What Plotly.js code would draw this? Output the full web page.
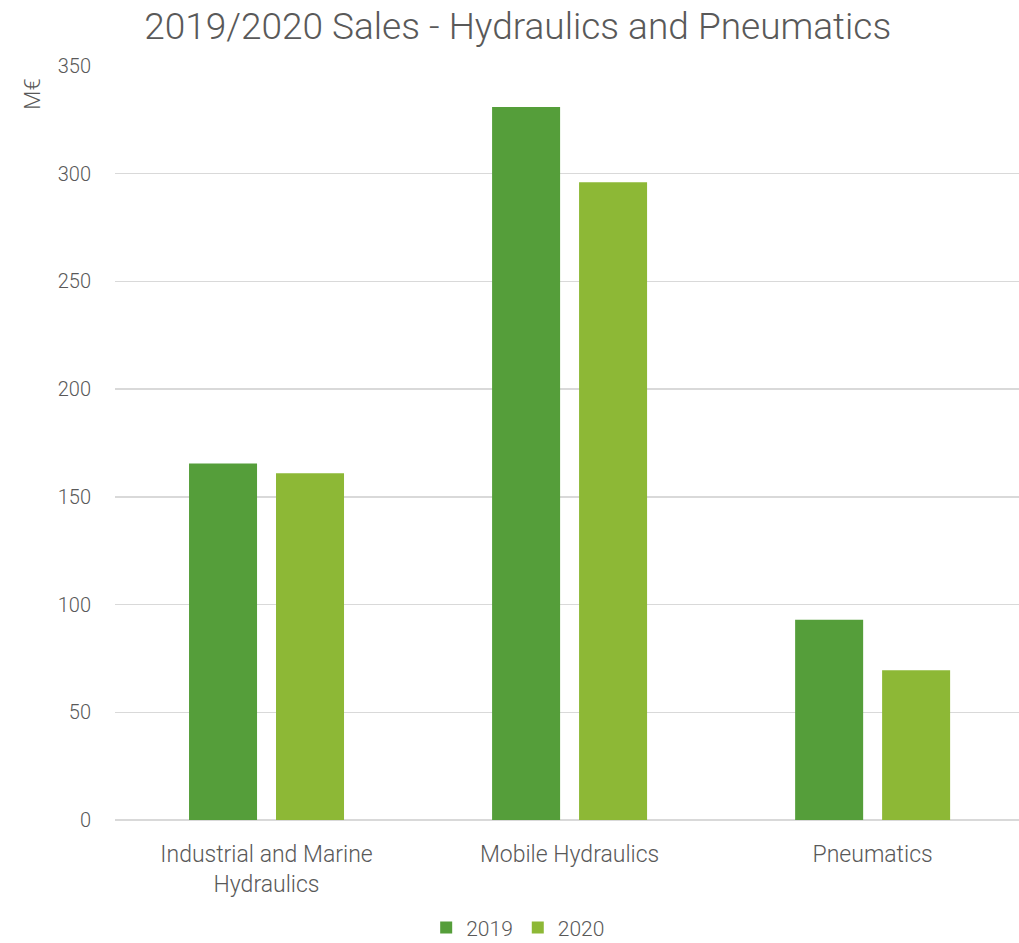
<!DOCTYPE html>
<html>
<head>
<meta charset="utf-8">
<script src="https://cdn.plot.ly/plotly-3.0.1.min.js"></script>
<style>html,body{margin:0;padding:0;background:#fff;overflow:hidden}</style>
</head>
<body>
<div id="chart" style="width:1019px;height:943px"></div>
<script>
const categories = ["Industrial and Marine<br>Hydraulics", "Mobile Hydraulics", "Pneumatics"];
const sales2019 = [165.5, 331, 93];
const sales2020 = [161, 296, 69.5];
const seriesNames = ["2019", "2020"];
const yTicks = [0, 50, 100, 150, 200, 250, 300, 350];

const FONT = "Roboto, 'DejaVu Sans', sans-serif";
const GREY = "#595959";

const data = [
  {type: "bar", name: seriesNames[0], x: categories, y: sales2019,
   marker: {color: "#559E3A"}, hoverinfo: "y"},
  {type: "bar", name: seriesNames[1], x: categories, y: sales2020,
   marker: {color: "#8DB836"}, hoverinfo: "y"}
];

const layout = {
  width: 1019, height: 943,
  margin: {l: 115, r: 0, t: 66, b: 123, pad: 0, autoexpand: false},
  paper_bgcolor: "#fff", plot_bgcolor: "#fff",
  font: {family: FONT, color: GREY, size: 18, weight: 300},
  title: {text: "2019/2020 Sales - Hydraulics and Pneumatics",
          font: {family: FONT, size: 37, color: GREY, weight: 300},
          x: 0.508, xref: "container", xanchor: "center", y: 0.972, yanchor: "middle"},
  barmode: "group", bargap: 0.426, bargroupgap: 0.218,
  xaxis: {type: "category", range: [-0.5, 2.483], showgrid: false, zeroline: false,
          showline: false, ticks: "outside", ticklen: 13, tickcolor: "rgba(0,0,0,0)",
          tickfont: {size: 23, color: GREY}, fixedrange: true, automargin: false},
  yaxis: {range: [0, 350], tickvals: yTicks, showgrid: true, gridcolor: "#D9D9D9", gridwidth: 1.5,
          zeroline: true, zerolinecolor: "#D9D9D9", zerolinewidth: 2, showline: false,
          ticks: "outside", ticklen: 19, tickcolor: "rgba(0,0,0,0)",
          tickfont: {size: 20, color: GREY}, fixedrange: true, automargin: false},
  legend: {orientation: "h", x: 0.446, xanchor: "center", y: -0.143, yanchor: "middle",
           font: {size: 21, color: GREY}, itemwidth: 30, traceorder: "normal"},
  annotations: [{text: "M€", xref: "paper", yref: "paper", x: -0.0907, y: 0.962,
                 xanchor: "center", yanchor: "middle", textangle: -90, showarrow: false,
                 font: {size: 22, color: GREY, family: FONT, weight: 300}}],
  showlegend: true
};

Plotly.newPlot("chart", data, layout, {displayModeBar: false, staticPlot: true});
</script>
</body>
</html>
